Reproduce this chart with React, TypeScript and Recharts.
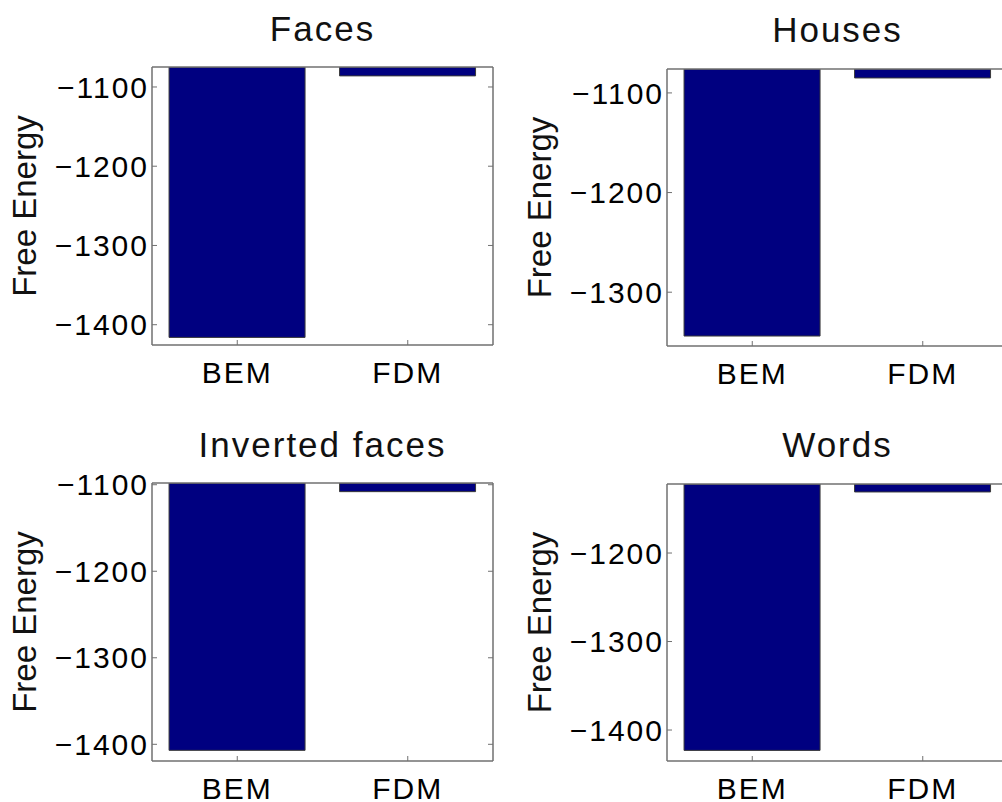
import { BarChart, Bar, XAxis, YAxis } from 'recharts';

const categories = ['BEM', 'FDM'];

const facesValues = [-1416, -1086];
const housesValues = [-1344, -1085];
const invertedFacesValues = [-1407, -1108];
const wordsValues = [-1423, -1131];

const facesDomain = [-1425.6, -1074.8];
const housesDomain = [-1354, -1076];
const invertedFacesDomain = [-1419.3, -1098];
const wordsDomain = [-1435, -1122];

const facesTicks = [-1400, -1300, -1200, -1100];
const housesTicks = [-1300, -1200, -1100];
const invertedFacesTicks = [-1400, -1300, -1200, -1100];
const wordsTicks = [-1400, -1300, -1200];

const FONT = '"Liberation Sans", Arial, sans-serif';
const AXIS_COLOR = '#707070';
const BAR_COLOR = '#000080';

const Y_AXIS_W = 152;
const PLOT_W = 341;

interface PanelProps {
  title: string;
  values: number[];
  domain: number[];
  ticks: number[];
  plotLeft: number;
  plotTop: number;
  plotHeight: number;
  titleBaseline: number;
}

const emptyTick = () => <g />;

const tickStyle = { fill: '#000', fontSize: 30, fontFamily: FONT, letterSpacing: 2 };

function Panel({ title, values, domain, ticks, plotLeft, plotTop, plotHeight, titleBaseline }: PanelProps) {
  const data = categories.map((name, i) => ({ name, value: values[i] }));
  const left = plotLeft - Y_AXIS_W;
  const top = plotTop - 20;
  const width = Y_AXIS_W + PLOT_W + 10;
  const height = 20 + plotHeight + 60;

  return (
    <>
      <div
        style={{
          position: 'absolute',
          left: plotLeft,
          width: PLOT_W,
          top: titleBaseline - 33,
          textAlign: 'center',
          fontFamily: FONT,
          fontSize: 35,
          letterSpacing: 2,
          lineHeight: '40px',
          color: '#111',
          whiteSpace: 'nowrap',
        }}
      >
        {title}
      </div>
      <div style={{ position: 'absolute', left, top }}>
        <BarChart
          width={width}
          height={height}
          data={data}
          margin={{ top: 19, right: 9, left: 0, bottom: 0 }}
          barCategoryGap="10%"
        >
          <XAxis
            dataKey="name"
            type="category"
            height={60}
            axisLine={{ stroke: AXIS_COLOR, strokeWidth: 1.5 }}
            tickLine={{ stroke: AXIS_COLOR }}
            tickSize={-5}
            tickMargin={22}
            tick={tickStyle}
          />
          <XAxis
            xAxisId="top"
            dataKey="name"
            orientation="top"
            height={1}
            axisLine={{ stroke: AXIS_COLOR, strokeWidth: 1.5 }}
            tickLine={false}
            tick={false}
          />
          <YAxis
            type="number"
            domain={domain}
            ticks={ticks}
            allowDataOverflow
            width={Y_AXIS_W}
            axisLine={{ stroke: AXIS_COLOR, strokeWidth: 1.5 }}
            tickLine={{ stroke: AXIS_COLOR }}
            tickSize={-5}
            tickMargin={8}
            tick={tickStyle}
            tickFormatter={(v: number) => String(v).replace('-', '\u2212')}
            label={{
              value: 'Free Energy',
              angle: -90,
              position: 'insideLeft',
              offset: 24,
              style: { textAnchor: 'middle', fontSize: 33, fontFamily: FONT, fill: '#111' },
            }}
          />
          <YAxis
            yAxisId="right"
            orientation="right"
            type="number"
            domain={domain}
            ticks={ticks}
            allowDataOverflow
            width={1}
            axisLine={{ stroke: AXIS_COLOR, strokeWidth: 1.5 }}
            tickLine={{ stroke: AXIS_COLOR }}
            tickSize={-5}
            tick={emptyTick}
          />
          <Bar
            dataKey="value"
            fill={BAR_COLOR}
            stroke="#3a3a3a"
            strokeWidth={1}
            isAnimationActive={false}
          />
        </BarChart>
      </div>
    </>
  );
}

export default function App() {
  return (
    <div
      style={{
        position: 'fixed',
        left: 0,
        top: 0,
        width: 1002,
        height: 802,
        overflow: 'hidden',
        background: '#fff',
      }}
    >
      <Panel title="Faces" values={facesValues} domain={facesDomain} ticks={facesTicks}
        plotLeft={152} plotTop={67} plotHeight={278} titleBaseline={42} />
      <Panel title="Houses" values={housesValues} domain={housesDomain} ticks={housesTicks}
        plotLeft={667} plotTop={69} plotHeight={277} titleBaseline={43} />
      <Panel title="Inverted faces" values={invertedFacesValues} domain={invertedFacesDomain} ticks={invertedFacesTicks}
        plotLeft={152} plotTop={483} plotHeight={278} titleBaseline={458} />
      <Panel title="Words" values={wordsValues} domain={wordsDomain} ticks={wordsTicks}
        plotLeft={667} plotTop={484} plotHeight={277} titleBaseline={458} />
    </div>
  );
}
